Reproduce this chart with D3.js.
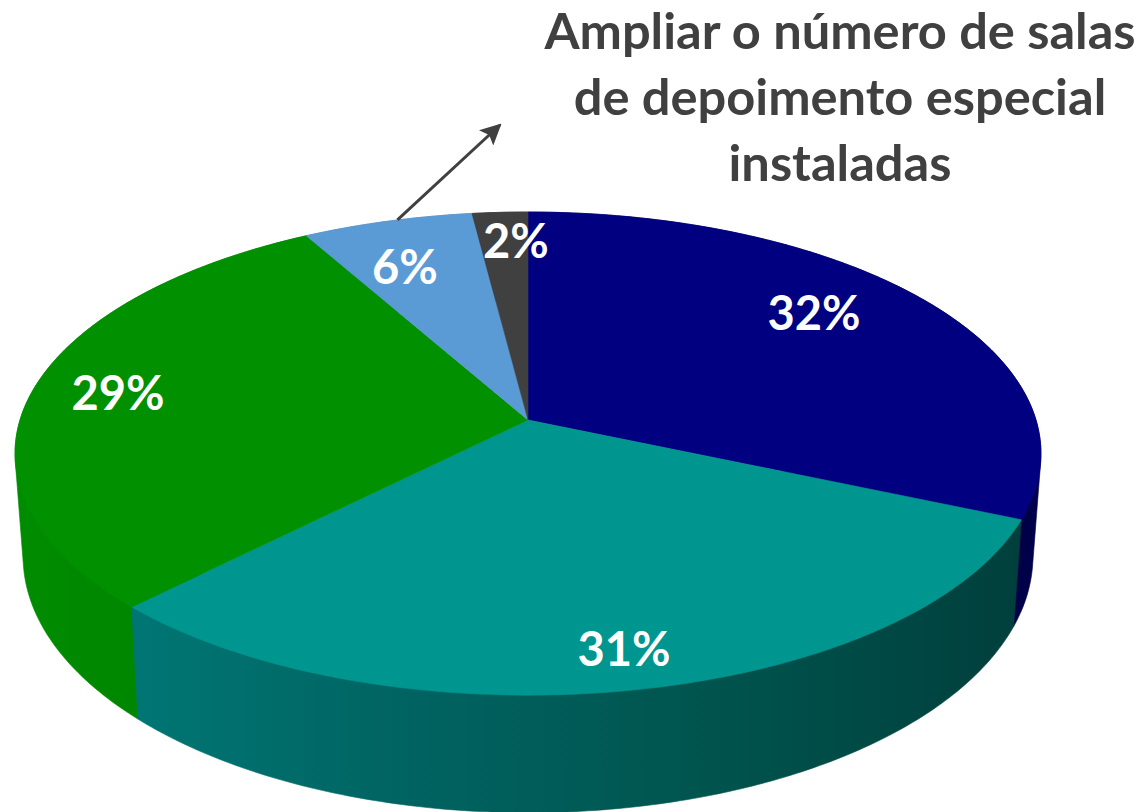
<!DOCTYPE html>
<html>
<head>
<meta charset="utf-8">
<script src="https://cdn.jsdelivr.net/npm/d3@7"></script>
<style>
html,body{margin:0;padding:0;background:#fff;}
svg{display:block;}
text{font-family:Lato,"Open Sans",sans-serif;font-weight:700;}
</style>
</head>
<body>
<svg id="chart" width="1142" height="812"></svg>
<script>
// ---- data ----
const categories = ["A", "B", "C", "Ampliar o número de salas de depoimento especial instaladas", "D"];
const shares = [31.51, 30.9, 29.45, 6.14, 2.0];
const topColors = ["#000080", "#009690", "#009000", "#5b9bd5", "#404040"];
const sideColorStops = [
  [[0, "#000058"], [1, "#000048"]],
  [[0, "#007674"], [0.3, "#006462"], [0.65, "#00544e"], [1, "#003f3c"]],
  [[0, "#008c00"], [0.6, "#008400"], [1, "#007800"]],
  [[0, "#4a80b0"], [1, "#4a80b0"]],
  [[0, "#303030"], [1, "#303030"]]
];
const titleLines = ["Ampliar o número de salas", "de depoimento especial", "instaladas"];

// ---- layout ----
const svg = d3.select("#chart");
const k = 0.139;                                   // perspective strength
const topDisc = {cx: 528, cy: 420, a: 508, b: 236.9};
const botDisc = {cx: 528, cy: 520.7, a: 500, b: 251.4};
const labelAnchors = [[814, 330], [624, 666], [118, 410], [405, 284], [516, 258]];
const titleY = [49, 115, 181];
const sideOrder = [0, 3, 4, 2, 1];                 // back to front

const project = (disc, theta) => {
  const x = Math.sin(theta), y = -Math.cos(theta), d = 1 - k * y;
  return [disc.cx + disc.a * x / d, disc.cy + disc.b * y / d];
};
const pie = d3.pie().value(d => d).sort(null).startAngle(0).endAngle(2 * Math.PI);
const arcs = pie(shares);
const angles = a => {
  const n = Math.max(4, Math.ceil((a.endAngle - a.startAngle) * 80));
  return d3.range(n + 1).map(i => a.startAngle + (a.endAngle - a.startAngle) * i / n);
};
const line = d3.line();

// gradients for the side wall
const defs = svg.append("defs");
arcs.forEach((a, i) => {
  const xs = angles(a).flatMap(t => [project(botDisc, t)[0], project(topDisc, t)[0]]);
  const [x0, x1] = d3.extent(xs);
  const g = defs.append("linearGradient").attr("id", "side" + i)
    .attr("gradientUnits", "userSpaceOnUse")
    .attr("x1", x0).attr("x2", x1).attr("y1", 0).attr("y2", 0);
  sideColorStops[i].forEach(s => g.append("stop").attr("offset", s[0]).attr("stop-color", s[1]));
});
const marker = defs.append("marker").attr("id", "arrow").attr("viewBox", "0 0 10 10")
  .attr("refX", 9).attr("refY", 5).attr("markerWidth", 7).attr("markerHeight", 7)
  .attr("markerUnits", "strokeWidth").attr("orient", "auto");
marker.append("path").attr("d", "M0,0 L10,5 L0,10 L2,5 Z").attr("fill", "#404040");

// side walls: hull of each slice's rim on the top and bottom discs
svg.append("g").selectAll("path").data(sideOrder).join("path")
  .attr("d", i => {
    const ts = angles(arcs[i]);
    const hull = d3.polygonHull(ts.map(t => project(topDisc, t)).concat(ts.map(t => project(botDisc, t))));
    return line(hull) + "Z";
  })
  .attr("fill", i => `url(#side${i})`)
  .attr("stroke", i => `url(#side${i})`)
  .attr("stroke-width", 0.6);

// top surface
svg.append("g").selectAll("path").data(arcs).join("path")
  .attr("d", (a) => {
    const pts = [[topDisc.cx, topDisc.cy]].concat(angles(a).map(t => project(topDisc, t)));
    return line(pts) + "Z";
  })
  .attr("fill", (a, i) => topColors[i])
  .attr("stroke", (a, i) => topColors[i])
  .attr("stroke-width", 0.6);

// value labels
svg.append("g").selectAll("text").data(arcs).join("text")
  .attr("x", (a, i) => labelAnchors[i][0])
  .attr("y", (a, i) => labelAnchors[i][1])
  .attr("text-anchor", "middle")
  .attr("font-size", 47)
  .attr("fill", "#fff")
  .text(a => d3.format(".0f")(a.value) + "%");

// leader arrow for the 6% slice
const leadFrom = project(topDisc, arcs[3].startAngle + (arcs[3].endAngle - arcs[3].startAngle) * 0.56);
svg.append("line")
  .attr("x1", leadFrom[0]).attr("y1", leadFrom[1])
  .attr("x2", 500).attr("y2", 125)
  .attr("stroke", "#404040").attr("stroke-width", 3)
  .attr("marker-end", "url(#arrow)");

// title
svg.append("g").selectAll("text").data(titleLines).join("text")
  .attr("x", 840).attr("y", (d, i) => titleY[i])
  .attr("text-anchor", "middle")
  .attr("font-size", 50.6)
  .attr("fill", "#404040")
  .text(d => d);
</script>
</body>
</html>
